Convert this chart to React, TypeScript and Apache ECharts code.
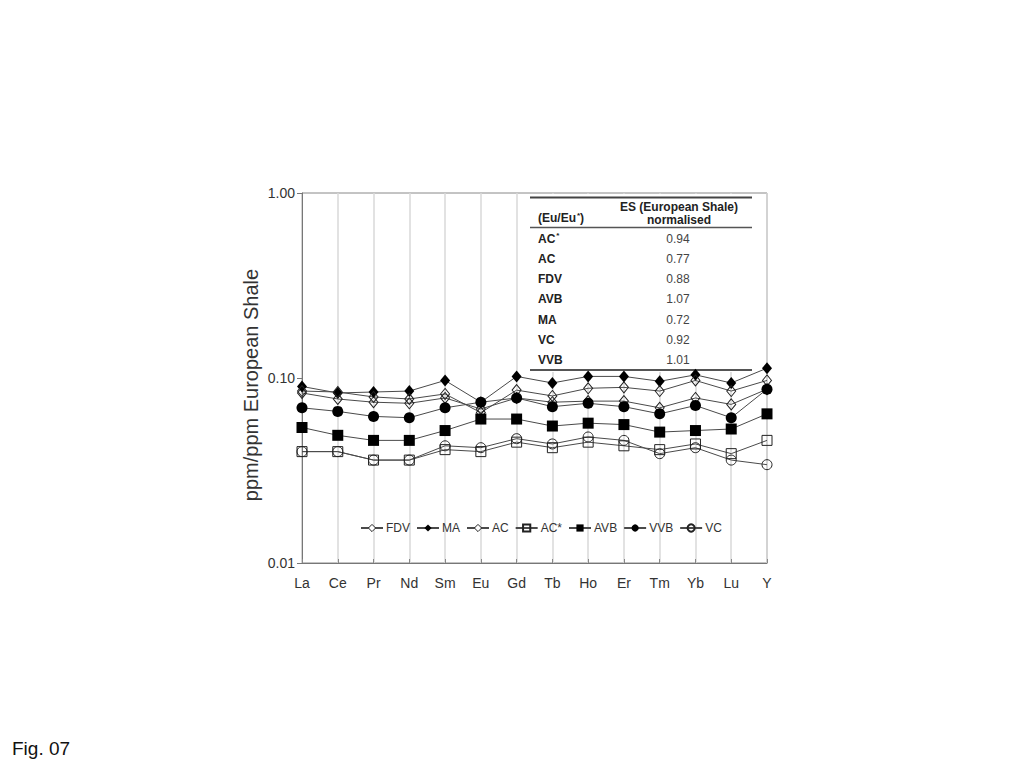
import React, { useEffect, useRef } from "react";
import * as echarts from "echarts";

const categories = ["La", "Ce", "Pr", "Nd", "Sm", "Eu", "Gd", "Tb", "Ho", "Er", "Tm", "Yb", "Lu", "Y"];

const fdv = [0.083, 0.077, 0.074, 0.073, 0.078, 0.068, 0.078, 0.074, 0.075, 0.075, 0.069, 0.078, 0.072, 0.087];
const ma = [0.090, 0.083, 0.084, 0.085, 0.097, 0.074, 0.102, 0.094, 0.102, 0.102, 0.096, 0.104, 0.094, 0.113];
const ac = [0.085, 0.084, 0.079, 0.077, 0.082, 0.065, 0.086, 0.080, 0.088, 0.089, 0.085, 0.097, 0.085, 0.097];
const acStar = [0.040, 0.040, 0.036, 0.036, 0.041, 0.040, 0.045, 0.042, 0.045, 0.043, 0.041, 0.044, 0.039, 0.046];
const avb = [0.054, 0.049, 0.046, 0.046, 0.052, 0.060, 0.060, 0.055, 0.057, 0.056, 0.051, 0.052, 0.053, 0.064];
const vvb = [0.069, 0.066, 0.062, 0.061, 0.069, 0.074, 0.078, 0.070, 0.073, 0.070, 0.064, 0.071, 0.061, 0.087];
const vc = [0.040, 0.040, 0.036, 0.036, 0.043, 0.042, 0.047, 0.044, 0.048, 0.046, 0.039, 0.042, 0.036, 0.034];

const legendNames = ["FDV", "MA", "AC", "AC*", "AVB", "VVB", "VC"];
const tableLabels = ["AC*", "AC", "FDV", "AVB", "MA", "VC", "VVB"];
const tableValues = ["0.94", "0.77", "0.88", "1.07", "0.72", "0.92", "1.01"];

const FONT = "'Liberation Sans', Arial, sans-serif";
const LINE = "#4a4a4a";
const OPEN = "rgba(255,255,255,0)";

function mkSeries(name: string, data: number[], symbol: string, filled: boolean, size: number | number[]) {
  return {
    name,
    type: "line",
    data,
    symbol,
    symbolSize: size,
    color: LINE,
    lineStyle: { color: LINE, width: 1 },
    itemStyle: {
      color: filled ? "#000" : OPEN,
      borderColor: "#222",
      borderWidth: filled ? 0 : 1,
    },
    emphasis: { disabled: true },
    z: 5,
  };
}

export default function App() {
  const ref = useRef<HTMLDivElement>(null);
  useEffect(() => {
    if (!ref.current) return;
    const chart = echarts.init(ref.current, undefined, { renderer: "svg" });

    const boldRich = {
      b: { fontFamily: FONT, fontSize: 12, fontWeight: "bold", fill: "#222" },
      s: { fontFamily: FONT, fontSize: 8, fontWeight: "bold", fill: "#222", verticalAlign: "top", padding: [0, 0, 6, 1] },
    };

    const graphics: any[] = [];
    graphics.push({ type: "rect", z: 2, shape: { x: 524, y: 194, width: 234, height: 178 }, style: { fill: "#fff" } });
    graphics.push({ type: "line", z: 3, shape: { x1: 530, y1: 197.5, x2: 752, y2: 197.5 }, style: { stroke: "#444", lineWidth: 2 } });
    graphics.push({ type: "line", z: 3, shape: { x1: 530, y1: 227.5, x2: 752, y2: 227.5 }, style: { stroke: "#555", lineWidth: 1.5 } });
    graphics.push({ type: "line", z: 3, shape: { x1: 530, y1: 370, x2: 752, y2: 370 }, style: { stroke: "#555", lineWidth: 2 } });
    graphics.push({
      type: "text",
      z: 3,
      x: 538,
      y: 218,
      style: { text: "{b|(Eu/Eu}{s|*}{b|)}", verticalAlign: "middle", rich: boldRich },
    });
    graphics.push({
      type: "text",
      z: 3,
      x: 679,
      y: 206.5,
      style: { text: "ES (European Shale)", fontFamily: FONT, fontSize: 12, fontWeight: "bold", fill: "#222", align: "center", verticalAlign: "middle" },
    });
    graphics.push({
      type: "text",
      z: 3,
      x: 679,
      y: 220,
      style: { text: "normalised", fontFamily: FONT, fontSize: 12, fontWeight: "bold", fill: "#222", align: "center", verticalAlign: "middle" },
    });
    tableLabels.forEach((lab, i) => {
      const y = 238.5 + i * 20.3;
      const star = lab.endsWith("*");
      graphics.push({
        type: "text",
        z: 3,
        x: 538,
        y,
        style: star
          ? { text: `{b|${lab.slice(0, -1)}}{s|*}`, verticalAlign: "middle", rich: boldRich }
          : { text: lab, fontFamily: FONT, fontSize: 12, fontWeight: "bold", fill: "#222", verticalAlign: "middle" },
      });
      graphics.push({
        type: "text",
        z: 3,
        x: 678,
        y,
        style: { text: tableValues[i], fontFamily: FONT, fontSize: 12, fill: "#444", align: "center", verticalAlign: "middle" },
      });
    });
    graphics.push({
      type: "text",
      x: 12,
      y: 748,
      style: { text: "Fig. 07", fontFamily: FONT, fontSize: 19, fill: "#111", verticalAlign: "middle" },
    });

    const openIcon = { color: "#fff", borderColor: "#222", borderWidth: 1 };

    chart.setOption({
      animation: false,
      backgroundColor: "#fff",
      textStyle: { fontFamily: FONT },
      grid: {
        left: 302,
        right: 257,
        top: 193,
        bottom: 205,
        show: true,
        borderColor: "#888",
        borderWidth: 1,
        backgroundColor: "rgba(0,0,0,0)",
      },
      legend: {
        data: legendNames.map((n) =>
          n === "FDV" || n === "AC" ? { name: n, itemStyle: openIcon } : { name: n }
        ),
        left: 360,
        top: 522,
        padding: 0,
        itemGap: 6,
        itemWidth: 22,
        itemHeight: 9,
        textStyle: { fontFamily: FONT, fontSize: 12, color: "#333", padding: [0, 0, 0, -2] },
        selectedMode: false,
      },
      xAxis: {
        type: "category",
        data: categories,
        boundaryGap: false,
        axisLine: { lineStyle: { color: "#777", width: 1 } },
        axisTick: { show: true, inside: true, length: 4, lineStyle: { color: "#888" } },
        axisLabel: { color: "#333", fontSize: 14, margin: 13, fontFamily: FONT },
        splitLine: { show: true, lineStyle: { color: "#d8d8d8", width: 1.5 } },
      },
      yAxis: {
        type: "log",
        logBase: 10,
        min: 0.01,
        max: 1,
        name: "ppm/ppm European Shale",
        nameLocation: "middle",
        nameGap: 41,
        nameTextStyle: { fontFamily: FONT, fontSize: 20, color: "#333", padding: [0, 14, 0, 0] },
        axisLine: { show: true, lineStyle: { color: "#777", width: 1 } },
        axisTick: { show: true, length: 5, lineStyle: { color: "#777" } },
        minorTick: { show: false },
        splitLine: { show: false },
        axisLabel: {
          color: "#333",
          fontSize: 14,
          margin: 7,
          fontFamily: FONT,
          formatter: (v: number) => v.toFixed(2),
        },
      },
      graphic: graphics,
      series: [
        mkSeries("FDV", fdv, "diamond", false, [9, 11]),
        mkSeries("MA", ma, "diamond", true, [10, 12]),
        mkSeries("AC", ac, "diamond", false, [9, 11]),
        mkSeries("AC*", acStar, "rect", false, 10),
        mkSeries("AVB", avb, "rect", true, 11),
        mkSeries("VVB", vvb, "circle", true, 11),
        mkSeries("VC", vc, "circle", false, 10),
      ],
    });
    return () => chart.dispose();
  }, []);
  return <div ref={ref} style={{ position: "absolute", left: 0, top: 0, width: 1024, height: 768 }} />;
}
